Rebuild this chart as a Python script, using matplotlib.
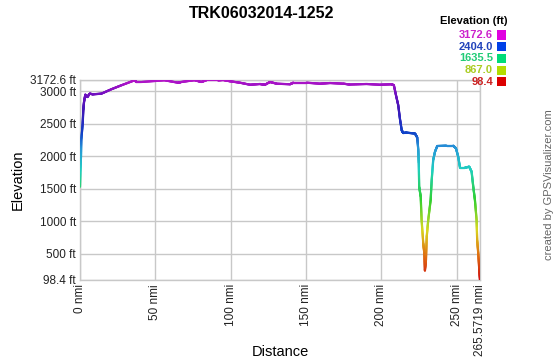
import numpy as np
import matplotlib
matplotlib.use("Agg")
import matplotlib.pyplot as plt
from matplotlib.collections import LineCollection
from matplotlib.colors import LinearSegmentedColormap

plt.rcParams['font.family'] = ['Liberation Sans', 'DejaVu Sans']

# ---- data ----
distance_nmi = [0.0, 0.2, 0.66, 0.86, 1.79, 2.19, 2.66, 3.52, 4.85, 6.44, 8.63, 14.14,
                20.78, 27.42, 36.3, 37.4, 40.7, 56.2, 65.1, 67.2, 76.1, 80.5, 83.8,
                91.6, 95.1, 99.6, 106.2, 112.9, 119.5, 122.8, 126.1, 130.6, 139.4,
                141.6, 150.5, 159.3, 166.0, 174.8, 179.2, 190.3, 199.1, 206.9, 208.4,
                209.8, 211.3, 212.4, 213.6, 214.6, 216.9, 222.4, 223.9, 224.6, 224.9,
                225.2, 226.2, 226.8, 227.9, 228.6, 229.0, 229.7, 230.2, 231.2, 232.8,
                233.5, 234.5, 235.7, 237.2, 243.4, 247.8, 249.6, 251.1, 252.3, 255.6,
                258.4, 260.0, 261.1, 262.2, 263.3, 263.7, 264.4, 265.1, 265.5719]
elevation_ft = [1532, 1763, 1994, 2250, 2507, 2711, 2834, 2947, 2911, 2962, 2953, 2962,
                3030, 3091, 3168, 3142, 3142, 3168, 3131, 3142, 3170, 3142, 3168,
                3168, 3172.6, 3153, 3131, 3100, 3111, 3100, 3142, 3116, 3107,
                3131, 3131, 3116, 3126, 3116, 3103, 3111, 3100, 3107, 3091,
                2937, 2784, 2578, 2399, 2358, 2363, 2350, 2289, 2097, 1897,
                1532, 1379, 1021, 663, 509, 244, 406, 764, 1021, 1328,
                1635, 1943, 2071, 2158, 2163, 2163, 2123, 1994, 1825, 1825,
                1840, 1763, 1532, 1328, 1021, 713, 509, 252, 98.4]

x_ticks = [0, 50, 100, 150, 200, 250, 265.5719]
x_tick_labels = ["0 nmi", "50 nmi", "100 nmi", "150 nmi", "200 nmi", "250 nmi", "265.5719 nmi"]
y_ticks = [98.4, 500, 1000, 1500, 2000, 2500, 3000, 3172.6]
y_tick_labels = ["98.4 ft", "500 ft", "1000 ft", "1500 ft", "2000 ft", "2500 ft", "3000 ft", "3172.6 ft"]

legend_values = ["3172.6", "2404.0", "1635.5", "867.0", "98.4"]
legend_colors = ["#e000e0", "#0040e8", "#00dc78", "#b4dc00", "#dc0000"]
legend_text_colors = ["#cc22cc", "#2244bb", "#22cc77", "#aacc22", "#cc2222"]

title = "TRK06032014-1252"

# ---- style ----
line_cmap = LinearSegmentedColormap.from_list("elev", [
    (0.0, "#d01010"), (0.12, "#e07010"), (0.25, "#d8d820"), (0.40, "#30d030"),
    (0.55, "#20d0c0"), (0.66, "#2898d8"), (0.74, "#1040c8"), (0.85, "#4018b8"),
    (0.93, "#7010c0"), (1.0, "#b414c8")])

fig = plt.figure(figsize=(5.6, 3.6), dpi=100)
ax = fig.add_axes([80/560, 80/360, 400/560, 200/360])

x = np.array(distance_nmi, dtype=float)
y = np.array(elevation_ft, dtype=float)
# subdivide each segment so the colour follows elevation smoothly
n_sub = 24
xs, ys = [x[0]], [y[0]]
for i in range(len(x) - 1):
    t = np.linspace(0, 1, n_sub + 1)[1:]
    xs.extend(x[i] + (x[i+1] - x[i]) * t)
    ys.extend(y[i] + (y[i+1] - y[i]) * t)
xs, ys = np.array(xs), np.array(ys)
pts = np.column_stack([xs, ys]).reshape(-1, 1, 2)
segs = np.concatenate([pts[:-1], pts[1:]], axis=1)
ymin, ymax = 98.4, 3172.6
mid = (ys[:-1] + ys[1:]) / 2
lc = LineCollection(segs, colors=line_cmap((mid - ymin) / (ymax - ymin)),
                    linewidths=1.6, capstyle='round', joinstyle='round', zorder=3)
ax.add_collection(lc)

ax.set_xlim(0, 265.5719)
ax.set_ylim(ymin, ymax)
ax.set_xticks(x_ticks)
ax.set_xticklabels(x_tick_labels, rotation=90, fontsize=8.5, color="#222222")
ax.set_yticks(y_ticks)
ax.set_yticklabels(y_tick_labels, fontsize=8.5, color="#222222")
ax.tick_params(length=0, pad=3)
ax.grid(True, color="#c8c8c8", linewidth=1)
ax.set_axisbelow(True)
for s in ax.spines.values():
    s.set_color("#c8c8c8")
    s.set_linewidth(1)

fig.text(18/560, 1 - 180/360, "Elevation", rotation=90, ha='center', va='center', fontsize=10.5)
fig.text(280/560, 1 - 352/360, "Distance", ha='center', va='center', fontsize=10.5)
fig.text(262/560, 1 - 13/360, title, ha='center', va='center', fontsize=11.5, fontweight='bold')

# legend
fig.text(507/560, 1 - 21/360, "Elevation (ft)", ha='right', va='center', fontsize=8, fontweight='bold')
for i, (v, c, tc) in enumerate(zip(legend_values, legend_colors, legend_text_colors)):
    yc = 35 + i * 11.7
    fig.text(493/560, 1 - yc/360, v, ha='right', va='center', fontsize=8, fontweight='bold', color=tc)
    fig.patches.append(plt.Rectangle((497/560, 1 - (yc + 4.5)/360), 9/560, 9/360,
                                     transform=fig.transFigure, facecolor=c, edgecolor='none'))

fig.text(549/560, 1 - 185/360, "created by GPSVisualizer.com", rotation=90, ha='center', va='center',
         fontsize=8, color="#666666")

fig.savefig("out.png", dpi=100)
